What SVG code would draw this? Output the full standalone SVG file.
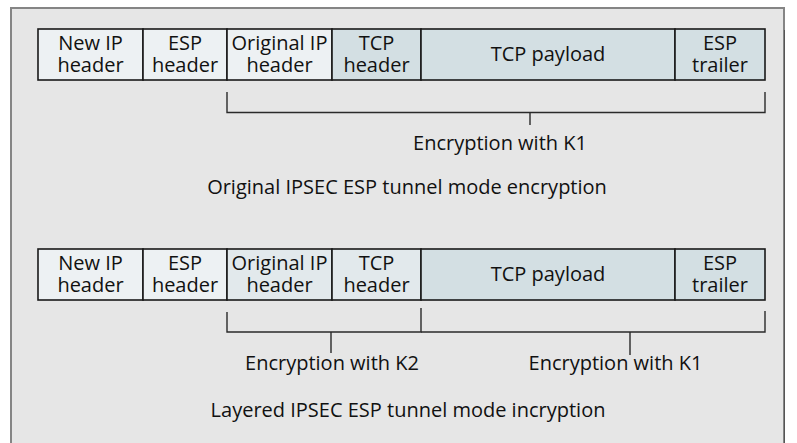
<svg xmlns="http://www.w3.org/2000/svg" width="797" height="443" viewBox="0 0 797 443">
<style>
.box{stroke:#1a1a1a;stroke-width:1.6}
.l1{fill:#edf1f3}
.l2{fill:#e2e9ec}
.d{fill:#d3dfe3}
.br{fill:none;stroke:#2a2a2a;stroke-width:1.4}
text{font-family:"Open Sans","Noto Sans",sans-serif;font-size:20px;fill:#111111;text-anchor:middle}
</style>
<rect x="0" y="0" width="797" height="443" fill="#ffffff"/>
<path d="M11,450 V8 H784 V450" fill="#e6e6e6" stroke="#858585" stroke-width="2"/>
<path d="M784.5,30 V450" fill="none" stroke="#555555" stroke-width="1"/>
<g id="row1">
<g id="r1-newip"><rect class="box l1" x="38" y="29" width="105" height="51"/><text x="90.5" y="50">New IP<tspan x="90.5" dy="21.5">header</tspan></text></g>
<g id="r1-esph"><rect class="box l1" x="143" y="29" width="84" height="51"/><text x="185" y="50">ESP<tspan x="185" dy="21.5">header</tspan></text></g>
<g id="r1-origip"><rect class="box l1" x="227" y="29" width="105" height="51"/><text x="279.5" y="50">Original IP<tspan x="279.5" dy="21.5">header</tspan></text></g>
<g id="r1-tcph"><rect class="box d" x="332" y="29" width="89" height="51"/><text x="376.5" y="50">TCP<tspan x="376.5" dy="21.5">header</tspan></text></g>
<g id="r1-payload"><rect class="box d" x="421" y="29" width="254" height="51"/><text x="548" y="61">TCP payload</text></g>
<g id="r1-trailer"><rect class="box d" x="675" y="29" width="90" height="51"/><text x="720" y="50">ESP<tspan x="720" dy="21.5">trailer</tspan></text></g>
</g>
<g id="row2">
<g id="r2-newip"><rect class="box l1" x="38" y="249" width="105" height="51"/><text x="90.5" y="270">New IP<tspan x="90.5" dy="21.5">header</tspan></text></g>
<g id="r2-esph"><rect class="box l1" x="143" y="249" width="84" height="51"/><text x="185" y="270">ESP<tspan x="185" dy="21.5">header</tspan></text></g>
<g id="r2-origip"><rect class="box l2" x="227" y="249" width="105" height="51"/><text x="279.5" y="270">Original IP<tspan x="279.5" dy="21.5">header</tspan></text></g>
<g id="r2-tcph"><rect class="box l2" x="332" y="249" width="89" height="51"/><text x="376.5" y="270">TCP<tspan x="376.5" dy="21.5">header</tspan></text></g>
<g id="r2-payload"><rect class="box d" x="421" y="249" width="254" height="51"/><text x="548" y="281">TCP payload</text></g>
<g id="r2-trailer"><rect class="box d" x="675" y="249" width="90" height="51"/><text x="720" y="270">ESP<tspan x="720" dy="21.5">trailer</tspan></text></g>
</g>
<g id="connectors">
<path class="br" d="M227,92 V112.5 H765 V92 M530,112.5 V125"/>
<path class="br" d="M227,312 V332 H421 V308 M331,332 V353"/>
<path class="br" d="M421,332 H765 V311 M630,332 V355"/>
</g>
<g id="labels">
<text x="500" y="150">Encryption with K1</text>
<text x="407" y="194">Original IPSEC ESP tunnel mode encryption</text>
<text x="332" y="370">Encryption with K2</text>
<text x="615.5" y="370">Encryption with K1</text>
<text x="408" y="417">Layered IPSEC ESP tunnel mode incryption</text>
</g>
</svg>
